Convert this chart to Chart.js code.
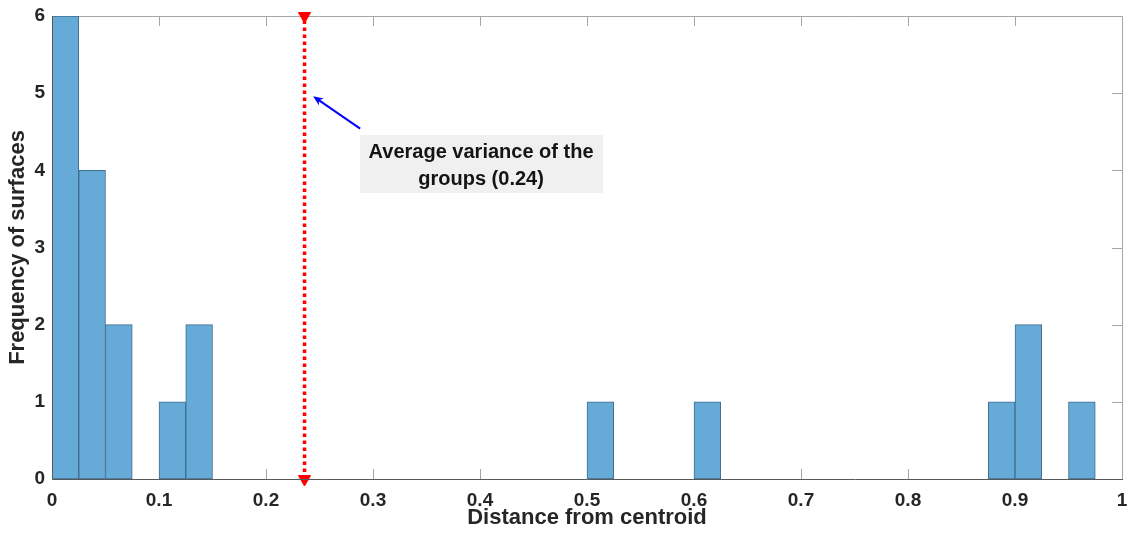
<!DOCTYPE html>
<html>
<head>
<meta charset="utf-8">
<script src="https://cdn.jsdelivr.net/npm/chart.js@4/dist/chart.umd.min.js"></script>
<style>
  html, body { margin: 0; padding: 0; background: #fff; }
  #wrap { width: 1131px; height: 538px; position: relative; }
</style>
</head>
<body>
<div id="wrap"><canvas id="canvas"></canvas></div>
<script>
// Histogram bins (left edges) that hold surfaces, and their counts
const binWidth = 0.025;
const binStarts = [0, 0.025, 0.05, 0.1, 0.125, 0.5, 0.6, 0.875, 0.9, 0.95];
const binCounts = [6, 4, 2, 1, 2, 1, 1, 1, 2, 1];

// Average variance marker
const avgVariance = 0.236;
const avgLabel = ['Average variance of the', 'groups (0.24)'];

// Axis ticks
const xTickValues = [0, 0.1, 0.2, 0.3, 0.4, 0.5, 0.6, 0.7, 0.8, 0.9, 1];
const xTickLabels = ['0', '0.1', '0.2', '0.3', '0.4', '0.5', '0.6', '0.7', '0.8', '0.9', '1'];
const yTickValues = [0, 1, 2, 3, 4, 5, 6];

const FONT = "'Liberation Sans', Arial, Helvetica, sans-serif";
const TEXT = '#262626';

// annotation anchor points in data units
const arrowTail = { x: 0.288, y: 4.54 };
const arrowHead = { x: 0.244, y: 4.96 };
const noteCenter = { x: 0.401, y: 4.08 };

const bars = binStarts.map((s, i) => ({ x: s + binWidth / 2, y: binCounts[i] }));

// MATLAB style box with inward tick marks on all four sides
const axesBox = {
    id: 'axesBox',
    beforeDatasetsDraw(chart) {
        const { ctx, chartArea: a, scales: { x, y } } = chart;
        ctx.save();
        ctx.lineWidth = 1;
        ctx.strokeStyle = '#a6a6a6';
        ctx.beginPath();
        ctx.moveTo(a.left, a.top + 0.5); ctx.lineTo(a.right + 0.5, a.top + 0.5);
        ctx.lineTo(a.right + 0.5, a.bottom);
        ctx.stroke();
        ctx.beginPath();
        for (const v of xTickValues) {
            const px = Math.round(x.getPixelForValue(v)) + 0.5;
            ctx.moveTo(px, a.top); ctx.lineTo(px, a.top + 10);
            ctx.moveTo(px, a.bottom); ctx.lineTo(px, a.bottom - 10);
        }
        for (const v of yTickValues) {
            const py = Math.round(y.getPixelForValue(v)) + 0.5;
            ctx.moveTo(a.left, py); ctx.lineTo(a.left + 10, py);
            ctx.moveTo(a.right, py); ctx.lineTo(a.right - 10, py);
        }
        ctx.stroke();
        ctx.restore();
    },
    afterDatasetsDraw(chart) {
        const { ctx, chartArea: a } = chart;
        ctx.save();
        ctx.strokeStyle = '#595959';
        ctx.lineWidth = 1;
        ctx.beginPath();
        ctx.moveTo(a.left + 0.5, a.top); ctx.lineTo(a.left + 0.5, a.bottom + 0.5);
        ctx.lineTo(a.right + 1, a.bottom + 0.5);
        ctx.stroke();
        ctx.restore();
    }
};

// arrow pointing at the marker + grey text box
const notes = {
    id: 'notes',
    afterDraw(chart) {
        const { ctx, scales: { x, y } } = chart;
        ctx.save();

        const tx = x.getPixelForValue(arrowTail.x), ty = y.getPixelForValue(arrowTail.y);
        const hx = x.getPixelForValue(arrowHead.x), hy = y.getPixelForValue(arrowHead.y);
        const ang = Math.atan2(hy - ty, hx - tx);
        ctx.strokeStyle = '#0000ff';
        ctx.fillStyle = '#0000ff';
        ctx.lineWidth = 2;
        ctx.beginPath();
        ctx.moveTo(tx, ty);
        ctx.lineTo(hx - Math.cos(ang) * 6, hy - Math.sin(ang) * 6);
        ctx.stroke();
        ctx.beginPath();
        ctx.moveTo(hx, hy);
        ctx.lineTo(hx - Math.cos(ang - 0.4) * 11, hy - Math.sin(ang - 0.4) * 11);
        ctx.lineTo(hx - Math.cos(ang) * 7, hy - Math.sin(ang) * 7);
        ctx.lineTo(hx - Math.cos(ang + 0.4) * 11, hy - Math.sin(ang + 0.4) * 11);
        ctx.closePath();
        ctx.fill();

        const cx = x.getPixelForValue(noteCenter.x), cy = y.getPixelForValue(noteCenter.y);
        const w = 243, h = 58;
        ctx.fillStyle = '#f0f0f0';
        ctx.fillRect(Math.round(cx - w / 2), Math.round(cy - h / 2), w, h);
        ctx.fillStyle = '#141414';
        ctx.font = 'bold 20px ' + FONT;
        ctx.textAlign = 'center';
        ctx.textBaseline = 'middle';
        ctx.fillText(avgLabel[0], cx, cy - 12);
        ctx.fillText(avgLabel[1], cx, cy + 15);
        ctx.restore();
    }
};

new Chart(document.getElementById('canvas'), {
    type: 'bar',
    data: {
        datasets: [
            {
                type: 'line',
                label: 'Average variance',
                data: [{ x: avgVariance, y: 0 }, { x: avgVariance, y: 6 }],
                borderColor: '#ff0000',
                borderWidth: 3.5,
                borderDash: [3.5, 3.5],
                pointStyle: 'triangle',
                rotation: 180,
                pointRadius: 7,
                pointBorderWidth: 1,
                pointBackgroundColor: '#ff0000',
                pointBorderColor: '#ff0000',
                clip: false,
                order: 0
            },
            {
                label: 'Surfaces',
                data: bars,
                backgroundColor: '#66aad7',
                borderColor: '#3f6d8e',
                borderWidth: 1,
                borderSkipped: false,
                barPercentage: 1,
                categoryPercentage: 1,
                order: 1
            }
        ]
    },
    options: {
        responsive: true,
        maintainAspectRatio: false,
        animation: false,
        layout: { padding: { top: 16, right: 9, left: 0, bottom: 0 } },
        plugins: { legend: { display: false }, tooltip: { enabled: false } },
        scales: {
            x: {
                type: 'linear',
                offset: false,
                min: 0,
                max: 1,
                afterBuildTicks: (s) => { s.ticks = xTickValues.map(v => ({ value: v })); },
                afterFit: (s) => { s.height = 59; s.paddingLeft = 0; s.paddingRight = 0; },
                grid: { display: false, drawTicks: false },
                border: { display: false },
                ticks: {
                    padding: 10,
                    maxRotation: 0,
                    autoSkip: false,
                    color: TEXT,
                    font: { family: FONT, size: 19, weight: 'bold' },
                    callback: (v, i) => xTickLabels[i]
                },
                title: {
                    display: true,
                    text: 'Distance from centroid',
                    color: TEXT,
                    font: { family: FONT, size: 22, weight: 'bold' },
                    padding: { top: 0, bottom: 7 }
                }
            },
            y: {
                min: 0,
                max: 6,
                afterBuildTicks: (s) => { s.ticks = yTickValues.map(v => ({ value: v })); },
                afterFit: (s) => { s.width = 52; s.paddingTop = 0; s.paddingBottom = 0; },
                grid: { display: false, drawTicks: false },
                border: { display: false },
                ticks: {
                    padding: 7,
                    color: TEXT,
                    font: { family: FONT, size: 19, weight: 'bold' }
                },
                title: {
                    display: true,
                    text: 'Frequency of surfaces',
                    color: TEXT,
                    font: { family: FONT, size: 22, weight: 'bold' },
                    padding: { top: 5, bottom: 0 }
                }
            }
        }
    },
    plugins: [axesBox, notes]
});
</script>
</body>
</html>
